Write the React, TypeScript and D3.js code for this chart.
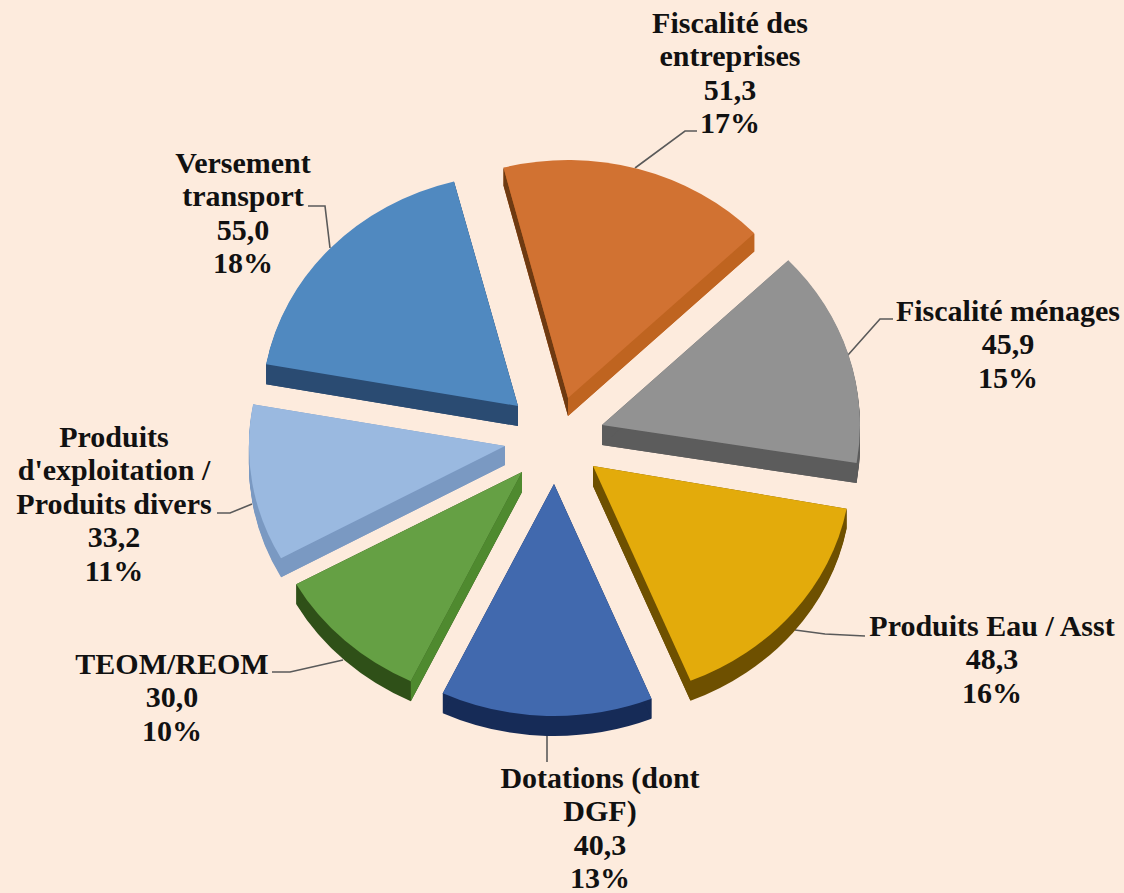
import React from "react";
import * as d3 from "d3";

const categories = ["Fiscalité des entreprises", "Fiscalité ménages", "Produits Eau / Asst", "Dotations (dont DGF)", "TEOM/REOM", "Produits d'exploitation / Produits divers", "Versement transport"];
const values = [51.3, 45.9, 48.3, 40.3, 30.0, 33.2, 55.0];
const valueLabels = ["51,3", "45,9", "48,3", "40,3", "30,0", "33,2", "55,0"];
const percentLabels = ["17%", "15%", "16%", "13%", "10%", "11%", "18%"];
const labelLines = [
  ["Fiscalité des", "entreprises"],
  ["Fiscalité ménages"],
  ["Produits Eau / Asst"],
  ["Dotations (dont", "DGF)"],
  ["TEOM/REOM"],
  ["Produits", "d'exploitation /", "Produits divers"],
  ["Versement", "transport"],
];
const topColors = ["#d17232", "#929292", "#e3ab0b", "#4169ae", "#65a044", "#9ab9e0", "#5089c0"];
const arcWallColors = ["#bf6420", "#5c5c5c", "#6e5000", "#162b57", "#2f5018", "#7a99c2", "#2a4b72"];
const startWallColors = ["#6e3a12", "#5c5c5c", "#6e5000", "#162b57", "#4f8a2f", "#7a99c2", "#2a4b72"];
const endWallColors = ["#bf6420", "#5c5c5c", "#6e5000", "#162b57", "#2f5018", "#7a99c2", "#2a4b72"];

const BG = "#fdebdd";
const W = 1124;
const H = 893;
const center = { x: 553, y: 440 };
const explode = [[15, -42], [49, -15], [40, 26], [1, 44], [-31, 32], [-48, 6], [-35, -34]];
const radiusX = [258, 258, 258, 258, 258, 256, 256];
const radiusY = [238, 238, 232, 232, 232, 232, 232];
const depths = [18, 20, 20, 20, 20, 19, 20];
const endTrimDeg = [0, -1.4, 0, 0, 0, 0, 0];
const labelPos = [
  { x: 730, y: 33 }, { x: 1008, y: 321 }, { x: 992, y: 636 }, { x: 600, y: 788 },
  { x: 172, y: 674 }, { x: 114, y: 447 }, { x: 243, y: 173 },
];
const leaders = [
  [[635, 168], [685, 131], [697, 131]],
  [[848, 355], [880, 319], [893, 319]],
  [[795, 630], [825, 634], [865, 636]],
  [[547, 735], [547, 762]],
  [[343, 660], [290, 672], [272, 672]],
  [[252, 504], [230, 513], [217, 513]],
  [[330, 248], [325, 206], [308, 206]],
];
const LINE = 33.4;

const pieGen = d3.pie<number>().sort(null)
  .startAngle((-14.5 * Math.PI) / 180)
  .endAngle((345.5 * Math.PI) / 180);
const arcGen = d3.arc<any>().innerRadius(0).outerRadius(1);
const leaderLine = d3.line();

export default function App() {
  const arcs = pieGen(values).map((a, i) => ({ ...a, endAngle: a.endAngle + (endTrimDeg[i] * Math.PI) / 180 }));
  return (
    <svg width={W} height={H} viewBox={`0 0 ${W} ${H}`} style={{ position: "absolute", left: 0, top: 0, background: BG }}>
      <rect width={W} height={H} fill={BG} />
      <g fill="none" stroke="#5a5a5a" strokeWidth={1.6}>
        {leaders.map((l, i) => <path key={i} d={leaderLine(l as [number, number][]) ?? ""} />)}
      </g>
      {arcs.map((a, i) => {
        const ax = center.x + explode[i][0];
        const ay = center.y + explode[i][1];
        const rx = radiusX[i];
        const ry = radiusY[i];
        const d = arcGen(a) ?? "";
        const px = (t: number) => Math.sin(t) * rx;
        const py = (t: number) => -Math.cos(t) * ry;
        const wall = (t: number) => {
          const p = d3.path();
          p.moveTo(0, 0);
          p.lineTo(px(t), py(t));
          p.lineTo(px(t), py(t) + depths[i]);
          p.lineTo(0, depths[i]);
          p.closePath();
          return p.toString();
        };
        return (
          <g key={categories[i]} transform={`translate(${ax},${ay})`}>
            {d3.range(1, depths[i] + 1).map((k) => (
              <path key={k} d={d} transform={`translate(0,${k}) scale(${rx},${ry})`} fill={arcWallColors[i]} />
            ))}
            <path d={wall(a.endAngle)} fill={endWallColors[i]} />
            <path d={wall(a.startAngle)} fill={startWallColors[i]} />
            <path d={d} transform={`scale(${rx},${ry})`} fill={topColors[i]} />
          </g>
        );
      })}
      <g fontFamily="'Liberation Serif', serif" fontWeight="bold" fontSize={30} fill="#111" textAnchor="middle">
        {labelPos.map((p, i) => {
          const lines = [...labelLines[i], valueLabels[i], percentLabels[i]];
          return (
            <text key={i} x={p.x} y={p.y}>
              {lines.map((t, j) => <tspan key={j} x={p.x} y={p.y + j * LINE}>{t}</tspan>)}
            </text>
          );
        })}
      </g>
    </svg>
  );
}
